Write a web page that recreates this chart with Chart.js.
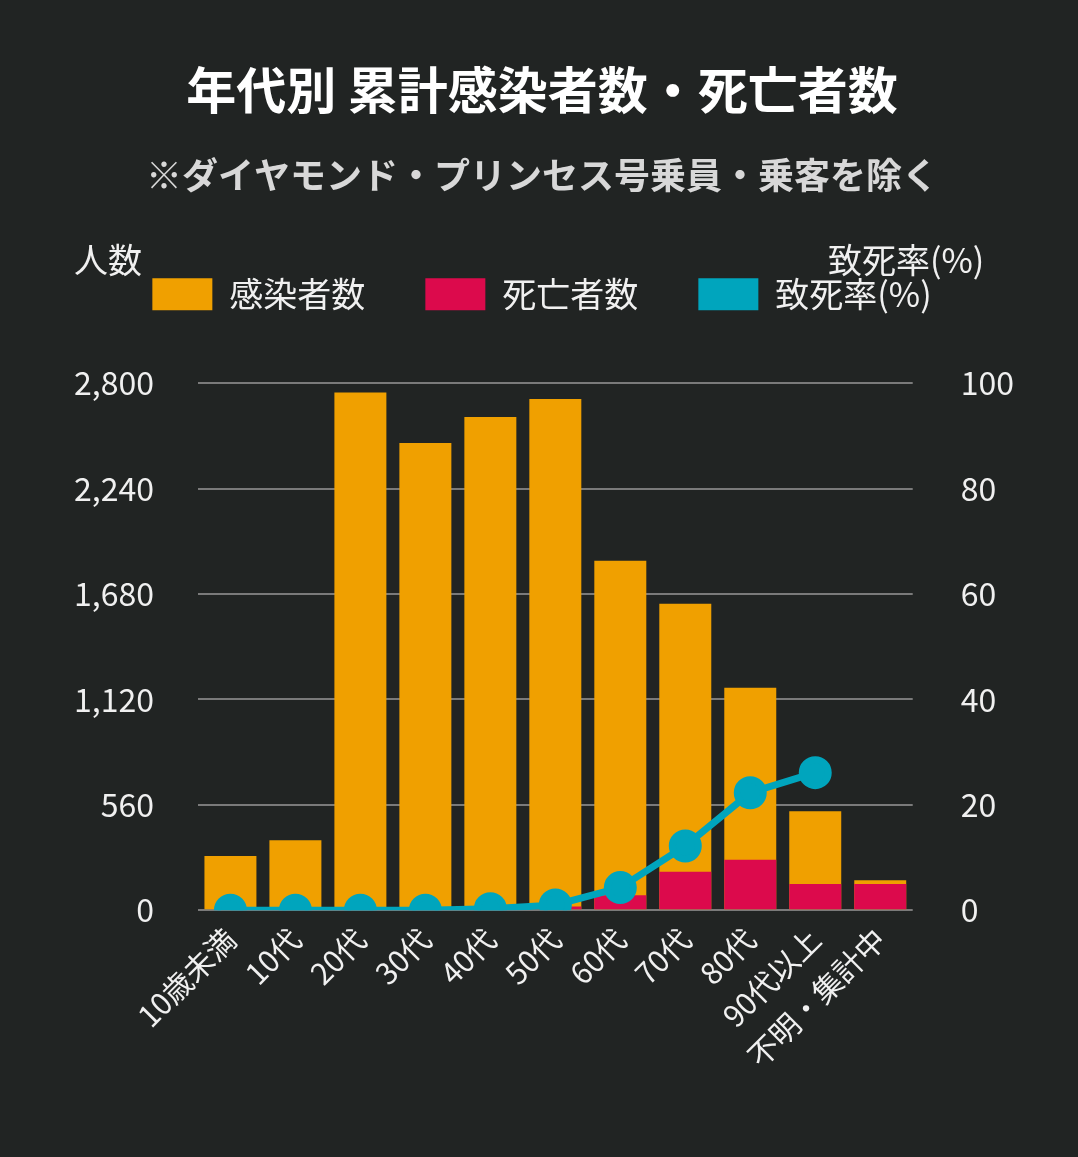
<!DOCTYPE html>
<html><head><meta charset="utf-8">
<script src="https://cdn.jsdelivr.net/npm/chart.js@4"></script>
<style>
html,body{margin:0;padding:0;background:#212423;}
#wrap{width:1078px;height:1157px;}
</style></head>
<body><div id="wrap"><canvas id="ageChart" width="1078" height="1157"></canvas></div>
<script>
// data
const ageLabels = ['10歳未満','10代','20代','30代','40代','50代','60代','70代','80代','90代以上','不明・集計中'];
const infected = [288, 372, 2750, 2482, 2621, 2716, 1857, 1628, 1182, 526, 159];
const deaths = [0, 0, 0, 0, 2, 20, 80, 204, 268, 139, 139];
const deathRate = [0, 0, 0, 0, 0.3, 1, 4.3, 12.2, 22.3, 26.1, null];
const leftTicks = [0, 560, 1120, 1680, 2240, 2800];
const rightTicks = [0, 20, 40, 60, 80, 100];

const fontFamily = "'Noto Sans CJK JP', 'Noto Sans', sans-serif";
Chart.defaults.font.family = fontFamily;
Chart.defaults.color = '#e8e8e8';

// axis unit labels at top of each axis
const unitLabels = {
    id: 'unitLabels',
    afterDraw(chart) {
        const ctx = chart.ctx;
        ctx.save();
        ctx.font = '34px ' + fontFamily;
        ctx.fillStyle = '#f0f0f0';
        ctx.textBaseline = 'middle';
        ctx.textAlign = 'left';
        ctx.fillText('人数', 74, 260);
        ctx.fillText('致死率(%)', 828, 260);
        ctx.restore();
    }
};

// extra gap under the legend
const legendGap = {
    id: 'legendGap',
    beforeInit(chart) {
        const origFit = chart.legend.fit;
        chart.legend.fit = function () {
            origFit.bind(chart.legend)();
            this.height += 62;
        };
    }
};

const ageChart = new Chart(document.getElementById('ageChart'), {
    data: {
        labels: ageLabels,
        datasets: [
            {
                type: 'line', label: '致死率(%)', data: deathRate, yAxisID: 'y2',
                borderColor: '#00a5bd', backgroundColor: '#00a5bd',
                borderWidth: 7, pointRadius: 13, pointHoverRadius: 13, order: 0
            },
            {
                type: 'bar', label: '死亡者数', data: deaths, yAxisID: 'y',
                backgroundColor: '#dc0a4c', order: 1,
                barPercentage: 0.8, categoryPercentage: 1, grouped: false
            },
            {
                type: 'bar', label: '感染者数', data: infected, yAxisID: 'y',
                backgroundColor: '#f0a000', order: 2,
                barPercentage: 0.8, categoryPercentage: 1, grouped: false
            }
        ]
    },
    options: {
        responsive: false,
        animation: false,
        layout: { padding: { left: 30, right: 24, top: 60, bottom: 80 } },
        plugins: {
            title: {
                display: true, text: '年代別 累計感染者数・死亡者数',
                color: '#ffffff', font: { size: 50, weight: 'bold' },
                padding: { bottom: 34 }
            },
            subtitle: {
                display: true, text: '※ダイヤモンド・プリンセス号乗員・乗客を除く',
                color: '#d8d8d8', font: { size: 36, weight: 'bold' },
                padding: { bottom: 20 }
            },
            legend: {
                display: true,
                reverse: true,
                labels: {
                    boxWidth: 60, boxHeight: 32, padding: 60,
                    font: { size: 34 }, color: '#f0f0f0',
                    generateLabels(chart) {
                        return chart.data.datasets.map((ds, i) => ({
                            text: ds.label, fillStyle: ds.backgroundColor,
                            strokeStyle: ds.backgroundColor, lineWidth: 0,
                            fontColor: '#f0f0f0', datasetIndex: i
                        }));
                    }
                }
            },
            tooltip: { enabled: false }
        },
        scales: {
            x: {
                grid: { display: false },
                border: { display: false },
                ticks: { font: { size: 30 }, color: '#f0f0f0', maxRotation: 45, minRotation: 45, autoSkip: false }
            },
            y: {
                position: 'left', min: 0, max: 2800,
                afterBuildTicks(axis) { axis.ticks = leftTicks.map(v => ({ value: v })); },
                grid: { color: '#7a7a7a', lineWidth: 2, drawTicks: false },
                border: { display: false },
                ticks: { font: { size: 32 }, color: '#f0f0f0', padding: 44 }
            },
            y2: {
                position: 'right', min: 0, max: 100,
                afterBuildTicks(axis) { axis.ticks = rightTicks.map(v => ({ value: v })); },
                grid: { display: false },
                border: { display: false },
                ticks: { font: { size: 32 }, color: '#f0f0f0', padding: 40 }
            }
        }
    },
    plugins: [unitLabels, legendGap]
});
</script>
</body></html>
